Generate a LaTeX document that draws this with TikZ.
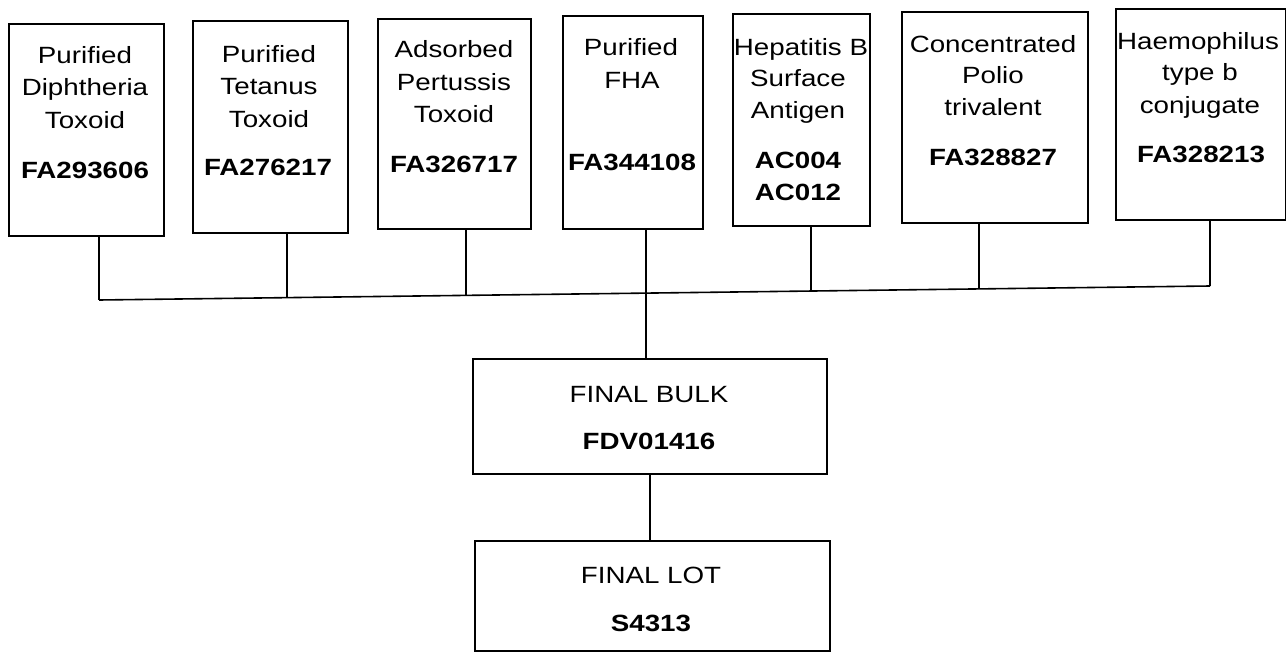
\documentclass[tikz,border=0pt]{standalone}
\usepackage{fontspec}
\setmainfont{Liberation Sans}[FakeStretch=1.18]
\begin{document}
\begin{tikzpicture}[x=1pt, y=-1pt, line width=1.6pt,
  box/.style={draw, rectangle, inner sep=0pt, anchor=north west},
  txt/.style={anchor=base, inner sep=0pt, font=\fontsize{23.5}{28}\selectfont},
  code/.style={anchor=base, inner sep=0pt, font=\fontsize{23.5}{28}\selectfont\bfseries}]
  \useasboundingbox (0,0) rectangle (1286,653);
  % Purified Diphtheria Toxoid
  \node[box, minimum width=155, minimum height=212] (dip) at (8,23) {};
  \node[txt] (dip1) at (85,63) {Purified};
  \node[txt] (dip2) at (85,95) {Diphtheria};
  \node[txt] (dip3) at (85,128) {Toxoid};
  \node[code] (dipc) at (85,178) {FA293606};
  % Purified Tetanus Toxoid
  \node[box, minimum width=155, minimum height=212] (tet) at (192,20) {};
  \node[txt] (tet1) at (269,62) {Purified};
  \node[txt] (tet2) at (269,94) {Tetanus};
  \node[txt] (tet3) at (269,127) {Toxoid};
  \node[code] (tetc) at (268,175) {FA276217};
  % Adsorbed Pertussis Toxoid
  \node[box, minimum width=153, minimum height=210] (per) at (377,18) {};
  \node[txt] (per1) at (454,57) {Adsorbed};
  \node[txt] (per2) at (454,90) {Pertussis};
  \node[txt] (per3) at (454,122) {Toxoid};
  \node[code] (perc) at (454,172) {FA326717};
  % Purified FHA
  \node[box, minimum width=140, minimum height=213] (fha) at (562,15) {};
  \node[txt] (fha1) at (631,55) {Purified};
  \node[txt] (fha2) at (632,88) {FHA};
  \node[code] (fhac) at (632,170) {FA344108};
  % Hepatitis B Surface Antigen
  \node[box, minimum width=137, minimum height=212] (hep) at (732,13) {};
  \node[txt] (hep1) at (801,55) {Hepatitis B};
  \node[txt] (hep2) at (798,86) {Surface};
  \node[txt] (hep3) at (798,118) {Antigen};
  \node[code] (hepc) at (798,168) {AC004};
  \node[code] (hepd) at (798,200) {AC012};
  % Concentrated Polio trivalent
  \node[box, minimum width=186, minimum height=211] (pol) at (901,11) {};
  \node[txt] (pol1) at (993,52) {Concentrated};
  \node[txt] (pol2) at (993,83) {Polio};
  \node[txt] (pol3) at (993,115) {trivalent};
  \node[code] (polc) at (993,165) {FA328827};
  % Haemophilus type b conjugate
  \node[box, minimum width=170, minimum height=211] (hib) at (1115,8) {};
  \node[txt] (hib1) at (1198,49) {Haemophilus};
  \node[txt] (hib2) at (1200,80) {type b};
  \node[txt] (hib3) at (1200,113) {conjugate};
  \node[code] (hibc) at (1201,162) {FA328213};
  % bus
  \coordinate (j1) at (99,300);
  \coordinate (j2) at (287,298);
  \coordinate (j3) at (466,295);
  \coordinate (j4) at (646,293);
  \coordinate (j5) at (811,291);
  \coordinate (j6) at (979,289);
  \coordinate (j7) at (1210,286);
  \draw (dip.south -| j1) -- (j1);
  \draw (tet.south -| j2) -- (j2);
  \draw (per.south -| j3) -- (j3);
  \draw (fha.south -| j4) -- (j4);
  \draw (hep.south -| j5) -- (j5);
  \draw (pol.south -| j6) -- (j6);
  \draw (hib.south -| j7) -- (j7);
  \draw (j1) -- (j7);
  % FINAL BULK
  \node[box, minimum width=354, minimum height=115] (bulk) at (472,358) {};
  \node[txt] (bulk1) at (649,402) {FINAL BULK};
  \node[code] (bulkc) at (649,449) {FDV01416};
  \draw (j4) -- (j4 |- bulk.north);
  % FINAL LOT
  \node[box, minimum width=355, minimum height=110] (lot) at (474,540) {};
  \node[txt] (lot1) at (651,583) {FINAL LOT};
  \node[code] (lotc) at (651,631) {S4313};
  \draw (bulk.south) -- (bulk.south |- lot.north);
\end{tikzpicture}
\end{document}
